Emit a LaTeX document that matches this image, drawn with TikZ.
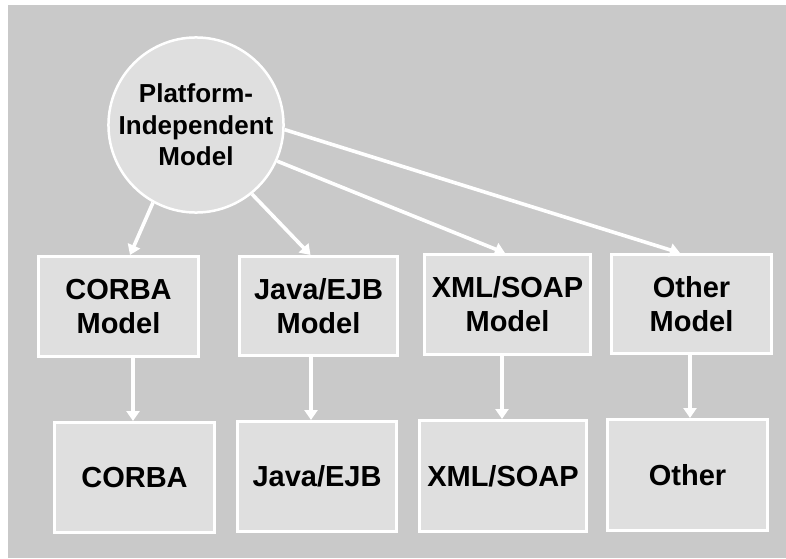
\documentclass[tikz,border=0pt]{standalone}
\usepackage{fontspec}
\setmainfont{Liberation Sans}
\usetikzlibrary{arrows.meta}
\definecolor{bggray}{HTML}{C9C9C9}
\definecolor{boxgray}{HTML}{DFDFDF}
\begin{document}
\begin{tikzpicture}[x=1pt,y=1pt,
  modelbox/.style={draw=white,line width=3pt,fill=boxgray,inner sep=0pt,align=center,
    font=\bfseries\fontsize{29}{34}\selectfont},
  pimnode/.style={circle,draw=white,line width=2.5pt,fill=boxgray,inner sep=0pt,align=center,
    minimum size=166pt,font=\bfseries\fontsize{26}{31.5}\selectfont},
  conn/.style={draw=white,line width=3.6pt,-{Triangle[length=10pt,width=13pt]}}]
\useasboundingbox (0,0) rectangle (786,558);
\fill[white] (0,0) rectangle (786,558);
\fill[bggray] (8,0) rectangle (786,553);
\node[pimnode] (pim) at (196,433) {Platform-\\Independent\\Model};
\node[modelbox,minimum width=160pt,minimum height=100pt] (cm) at (118.5,251.5) {CORBA\\Model};
\node[modelbox,minimum width=158pt,minimum height=99pt] (jm) at (318.5,252) {Java/EJB\\Model};
\node[modelbox,minimum width=166pt,minimum height=100pt] (xm) at (507.5,253.5) {XML/SOAP\\Model};
\node[modelbox,minimum width=160pt,minimum height=99pt] (om) at (691.5,254) {Other\\Model};
\node[modelbox,minimum width=160pt,minimum height=110pt] (c) at (134.5,80.5) {CORBA};
\node[modelbox,minimum width=159pt,minimum height=110pt] (j) at (317,81.5) {Java/EJB};
\node[modelbox,minimum width=167pt,minimum height=111pt] (x) at (503,82) {XML/SOAP};
\node[modelbox,minimum width=160pt,minimum height=111pt] (o) at (687.5,83) {Other};
\draw[conn] (pim.241) -- ([xshift=11.5pt]cm.north);
\draw[conn] (pim.309.5) -- ([xshift=-8pt]jm.north);
\draw[conn] (pim.336) -- ([xshift=-2.5pt]xm.north);
\draw[conn] (pim.357) -- ([xshift=-11.5pt]om.north);
\draw[conn] ([xshift=14.5pt]cm.south) -- ([xshift=-1.5pt]c.north);
\draw[conn] ([xshift=-7.5pt]jm.south) -- ([xshift=-6pt]j.north);
\draw[conn] ([xshift=-5.5pt]xm.south) -- ([xshift=-1pt]x.north);
\draw[conn] ([xshift=-1.5pt]om.south) -- ([xshift=2.5pt]o.north);
\end{tikzpicture}
\end{document}
